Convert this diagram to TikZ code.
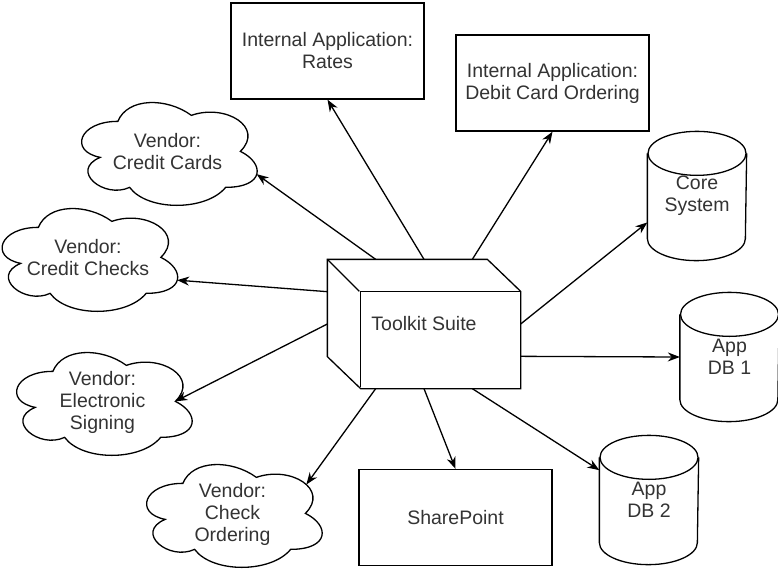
\documentclass[tikz,border=0pt]{standalone}
\usepackage{fontspec}
\setmainfont{Liberation Sans}
\usetikzlibrary{positioning,calc,arrows.meta}

% drum outline round a node
\newcommand{\dbcyl}[1]{%
  \draw ($(#1.north)+(0,-22)$) ellipse [x radius=49, y radius=22];
  \draw ($(#1.north west)+(0,-22)$) -- ($(#1.south west)+(0,22)$)
    arc [start angle=180, end angle=360, x radius=49, y radius=22]
    -- ($(#1.north east)+(0,-22)$);
}
% cloud outline in the node's box, plus two points on it
\newcommand{\vcloud}[1]{%
  \begin{scope}[shift={(#1.north west)}, x={(196pt,0pt)}, y={(0pt,-120pt)}]
    \draw (0.25,0.25) .. controls (0.05,0.25) and (0,0.5) .. (0.16,0.55)
      .. controls (0,0.66) and (0.18,0.9) .. (0.31,0.8)
      .. controls (0.4,1) and (0.7,1) .. (0.8,0.8)
      .. controls (1,0.8) and (1,0.6) .. (0.875,0.5)
      .. controls (1,0.3) and (0.8,0.1) .. (0.625,0.2)
      .. controls (0.5,0.05) and (0.3,0.05) .. (0.25,0.25) -- cycle;
    \coordinate (#1-e) at (0.958,0.69);
    \coordinate (#1-n) at (0.875,0.5);
    \coordinate (#1-ne) at (0.88,0.26);
  \end{scope}}

\begin{document}
\begin{tikzpicture}[x=1pt, y=1pt, line width=1.3pt,
    font=\fontsize{19.5}{22}\selectfont, text=black!80,
    appbox/.style={draw, minimum width=193pt, minimum height=96pt, inner sep=0pt, align=center},
    vendor/.style={minimum width=196pt, minimum height=120pt, inner sep=0pt, align=center},
    dbnode/.style={minimum width=98pt, minimum height=128pt, inner sep=0pt, align=center},
    arr/.style={-{Stealth[length=12pt, width=9pt]}}]
        \useasboundingbox (0,0) rectangle (778,-573);

        % suite
        \node (suite) at (424,-324) [minimum width=192pt, minimum height=128pt, inner sep=0pt] {Toolkit Suite};
        \draw (suite.north west) -- ++(160,0) -- ($(suite.north east)+(0,-32)$) -- (suite.south east)
            -- ++(-160,0) -- ($(suite.south west)+(0,32)$) -- cycle;
        \draw ($(suite.north east)+(0,-32)$) -- ++(-160,0) -- ++(0,-96);
        \draw (suite.north west) -- ++(32,-32);

        % boxes
        \node (rates) at (327.5,-51) [appbox] {Internal Application:\\Rates};
        \node (debit) at (552.5,-83) [appbox] {Internal Application:\\Debit Card Ordering};
        \node (sp) at (455.5,-517.5) [appbox] {SharePoint};

        % databases
        \node (core) at (697,-196) [dbnode] {Core\\System};
        \node (db1) at (729.5,-357) [dbnode] {App\\DB 1};
        \node (db2) at (649,-500) [dbnode] {App\\DB 2};
        \dbcyl{core}
        \dbcyl{db1}
        \dbcyl{db2}

        % vendors
        \node (cc) at (167.5,-152) [vendor] {Vendor:\\Credit Cards};
        \node (ck) at (88,-258) [vendor] {Vendor:\\Credit Checks};
        \node (es) at (102.5,-402) [vendor] {Vendor:\\Electronic\\Signing};
        \node (co) at (232.5,-514) [vendor] {Vendor:\\Check\\Ordering};
        \vcloud{cc}
        \vcloud{ck}
        \vcloud{es}
        \vcloud{co}

        \draw [arr] ($(suite.north west)!.25!(suite.north east)$) -- (cc-e);
        \draw [arr] (suite.north) -- (rates.south);
        \draw [arr] ($(suite.north west)!.75!(suite.north east)$) -- (debit.south);
        \draw [arr] (suite.east) -- (core.208);
        \draw [arr] ($(suite.north east)!.75!(suite.south east)$) -- (db1.west);
        \draw [arr] ($(suite.south west)!.75!(suite.south east)$) -- (db2.149);
        \draw [arr] (suite.south) -- (sp.north);
        \draw [arr] ($(suite.south west)!.25!(suite.south east)$) -- (co-ne);
        \draw [arr] (suite.west) -- (es-n);
        \draw [arr] ($(suite.north west)!.25!(suite.south west)$) -- (ck-e);
    \end{tikzpicture}
\end{document}
